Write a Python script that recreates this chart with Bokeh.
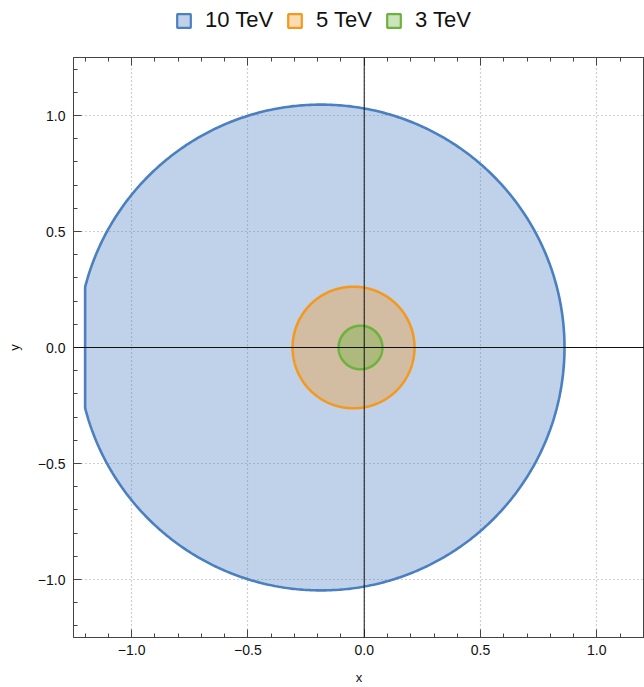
import numpy as np
from bokeh.plotting import figure
from bokeh.layouts import column
from bokeh.models import Legend, LegendItem, LinearAxis, FixedTicker, Span
from bokeh.embed import file_html
from bokeh.resources import INLINE

# ---- data -------------------------------------------------------------
labels = ["10 TeV", "5 TeV", "3 TeV"]
centers_x = [-0.186, -0.046, -0.016]
centers_y = [0.0, 0.0, 0.0]
radii = [1.047, 0.262, 0.094]
x_clip = [-1.2, None, None]
line_colors = ["#4a7fc0", "#f4991f", "#6cb23c"]
fill_alpha = 0.35

major_ticks = [-1.0, -0.5, 0.0, 0.5, 1.0]
tick_labels = ["\u22121.0", "\u22120.5", "0.0", "0.5", "1.0"]
minor_ticks = [round(v, 1) for v in np.arange(-1.2, 1.25, 0.1)]

FONT = "Liberation Sans"

# ---- region outlines ----------------------------------------------------
theta = np.linspace(0, 2 * np.pi, 721)
shapes = []
for cx, cy, r, clip in zip(centers_x, centers_y, radii, x_clip):
    xs = cx + r * np.cos(theta)
    ys = cy + r * np.sin(theta)
    if clip is not None:
        xs = np.maximum(xs, clip)
    shapes.append((xs, ys))

# ---- main plot ----------------------------------------------------------
p = figure(width=644, height=643, x_range=(-1.25, 1.205), y_range=(-1.25, 1.25),
           output_backend="svg", toolbar_location=None,
           min_border_left=73, min_border_right=0, min_border_top=13, min_border_bottom=49)
p.background_fill_color = "white"
p.border_fill_color = "white"
p.outline_line_color = "#444444"

ticker = FixedTicker(ticks=major_ticks, minor_ticks=minor_ticks)

def style_axis(ax, show_labels=True):
    ax.ticker = ticker
    ax.axis_line_color = "#444444"
    ax.major_tick_line_color = "#444444"
    ax.minor_tick_line_color = "#444444"
    ax.major_tick_in = 8
    ax.major_tick_out = 0
    ax.minor_tick_in = 4
    ax.minor_tick_out = 0
    if show_labels:
        ax.major_label_overrides = {t: l for t, l in zip(major_ticks, tick_labels)}
        ax.major_label_text_font_size = "14px"
    else:
        ax.major_label_overrides = {t: "" for t in major_ticks}
        ax.major_label_text_font_size = "0px"
        ax.major_label_standoff = 0
    ax.major_label_text_font = FONT
    ax.major_label_text_color = "#111111"
    ax.axis_label_text_font = FONT
    ax.axis_label_text_font_size = "13px"
    ax.axis_label_text_font_style = "normal"
    ax.axis_label_text_color = "#111111"

xa = p.xaxis[0]
ya = p.yaxis[0]
style_axis(xa)
style_axis(ya)
xa.axis_label = "x"
ya.axis_label = "y"
xa.major_label_standoff = 7
xa.axis_label_standoff = 12
ya.major_label_standoff = 8
ya.axis_label_standoff = 13

top = LinearAxis()
style_axis(top, show_labels=False)
p.add_layout(top, "above")

for g in (p.xgrid[0], p.ygrid[0]):
    g.ticker = FixedTicker(ticks=major_ticks)
    g.grid_line_color = "#a0a0a0"
    g.grid_line_dash = "1 3"
    g.grid_line_width = 1.2

for (xs, ys), col in zip(shapes, line_colors):
    p.patch(xs, ys, fill_color=col, fill_alpha=fill_alpha, line_color=col, line_width=2.6)

p.add_layout(Span(location=0, dimension="height", line_color="#111111", line_width=1))
p.add_layout(Span(location=0, dimension="width", line_color="#111111", line_width=1))

# ---- legend strip -------------------------------------------------------
lg = figure(width=644, height=44, x_range=(10, 11), y_range=(10, 11),
            output_backend="svg", toolbar_location=None,
            min_border_left=0, min_border_right=0, min_border_top=0, min_border_bottom=0)
lg.axis.visible = False
lg.grid.visible = False
lg.outline_line_color = None
lg.background_fill_color = "white"
lg.border_fill_color = "white"

leg_renderers = []
for (xs, ys), col in zip(shapes, line_colors):
    leg_renderers.append(lg.patch(xs, ys, fill_color=col, fill_alpha=fill_alpha,
                                  line_color=col, line_width=2.2))

legend = Legend(items=[LegendItem(label=l, renderers=[r]) for l, r in zip(labels, leg_renderers)],
                orientation="horizontal", location=(102, 11),
                glyph_width=17, glyph_height=17, label_height=17,
                label_standoff=13, spacing=13, padding=0, margin=0,
                label_text_font=FONT, label_text_font_size="22px",
                label_text_color="#111111",
                background_fill_alpha=0, border_line_alpha=0)
lg.add_layout(legend, "center")

layout = column(lg, p, spacing=0)
open("out.html", "w").write(file_html(layout, INLINE))
